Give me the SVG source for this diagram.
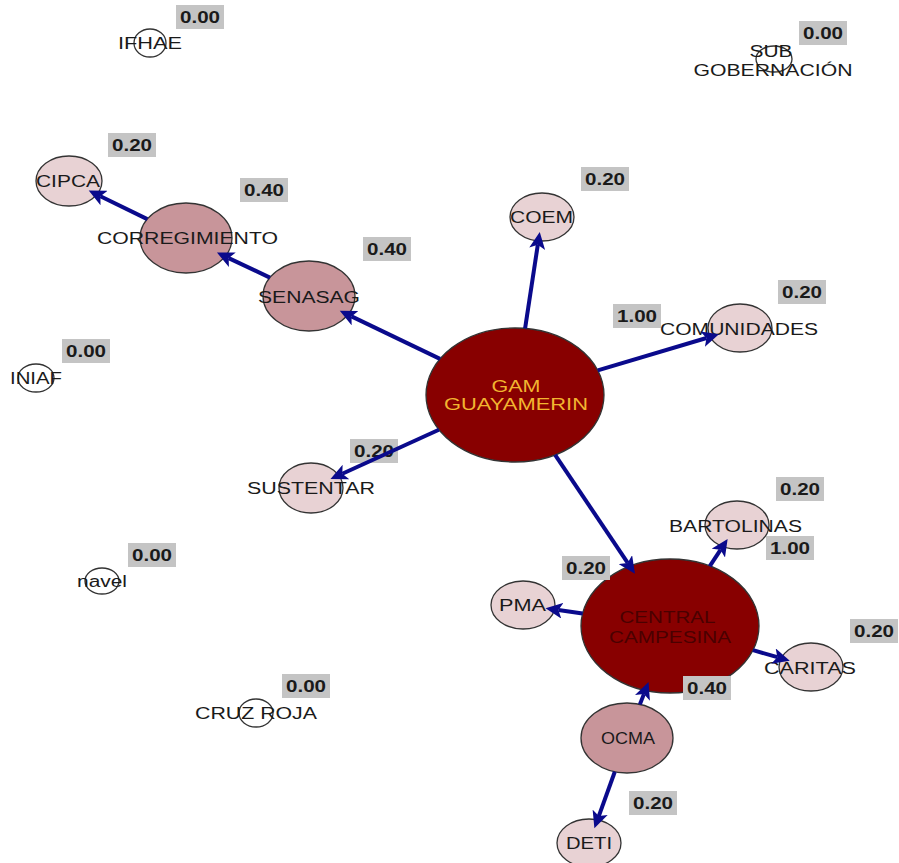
<svg xmlns="http://www.w3.org/2000/svg" width="899" height="863" viewBox="0 0 899 863">
<defs>
<marker id="arr" markerUnits="userSpaceOnUse" markerWidth="18" markerHeight="16" viewBox="0 0 18 16" refX="4" refY="8" orient="auto">
<path d="M17,8 L0,0 L4,8 L0,16 Z" fill="#0A0A8C"/>
</marker>
<style>
.bg{fill:#fff}
.val rect{fill:#C4C4C4}
.val text{font-family:"Liberation Sans",Arial,sans-serif;font-weight:bold;font-size:16px;fill:#1a1a1a;text-anchor:middle}
.edge{stroke:#0A0A8C;stroke-width:4;fill:none;marker-end:url(#arr)}
.n ellipse{stroke:#333;stroke-width:1.3}
.z{fill:#fff}
.p1{fill:#E8D2D4}
.p2{fill:#C8959A}
.p3{fill:#880000}
.n text{font-family:"Liberation Sans",Arial,sans-serif;font-size:16px;fill:#1a1a1a;text-anchor:middle}
</style>
</defs>
<rect class="bg" width="899" height="863"/>
<g id="IFHAE" class="n"><ellipse class="z" cx="150" cy="43" rx="16" ry="14"/><text x="150" y="49" textLength="64" lengthAdjust="spacingAndGlyphs">IFHAE</text></g>
<g id="SUB_GOBERNACION" class="n"><ellipse class="z" cx="774" cy="59" rx="18" ry="13"/><text x="771" y="57" textLength="43" lengthAdjust="spacingAndGlyphs">SUB</text><text x="773" y="76" textLength="159" lengthAdjust="spacingAndGlyphs">GOBERNACIÓN</text></g>
<g id="CIPCA" class="n"><ellipse class="p1" cx="69" cy="181" rx="33" ry="25"/><text x="68" y="187" textLength="64" lengthAdjust="spacingAndGlyphs">CIPCA</text></g>
<g id="CORREGIMIENTO" class="n"><ellipse class="p2" cx="186" cy="238" rx="46" ry="35"/><text x="187.5" y="244" textLength="181" lengthAdjust="spacingAndGlyphs">CORREGIMIENTO</text></g>
<g id="SENASAG" class="n"><ellipse class="p2" cx="309" cy="296" rx="46" ry="35"/><text x="309" y="303" textLength="102" lengthAdjust="spacingAndGlyphs">SENASAG</text></g>
<g id="GAM_GUAYAMERIN" class="n"><ellipse class="p3" cx="515" cy="395" rx="89" ry="67"/><text x="516" y="392" textLength="49" lengthAdjust="spacingAndGlyphs" style="fill:#F2B530">GAM</text><text x="516" y="410" textLength="144" lengthAdjust="spacingAndGlyphs" style="fill:#F2B530">GUAYAMERIN</text></g>
<g id="COEM" class="n"><ellipse class="p1" cx="542" cy="217" rx="32" ry="24"/><text x="541.5" y="223" textLength="63" lengthAdjust="spacingAndGlyphs">COEM</text></g>
<g id="COMUNIDADES" class="n"><ellipse class="p1" cx="740" cy="328" rx="32" ry="24"/><text x="739" y="335" textLength="158" lengthAdjust="spacingAndGlyphs">COMUNIDADES</text></g>
<g id="INIAF" class="n"><ellipse class="z" cx="36" cy="378" rx="18" ry="14"/><text x="36" y="384" textLength="52" lengthAdjust="spacingAndGlyphs">INIAF</text></g>
<g id="SUSTENTAR" class="n"><ellipse class="p1" cx="311" cy="488" rx="32" ry="25"/><text x="311" y="494" textLength="128" lengthAdjust="spacingAndGlyphs">SUSTENTAR</text></g>
<g id="navel" class="n"><ellipse class="z" cx="102" cy="581" rx="17" ry="13"/><text x="102" y="587" textLength="50" lengthAdjust="spacingAndGlyphs">navel</text></g>
<g id="CENTRAL_CAMPESINA" class="n"><ellipse class="p3" cx="670" cy="626" rx="89" ry="67"/><text x="667.5" y="623" textLength="96" lengthAdjust="spacingAndGlyphs" style="fill:#4a0000">CENTRAL</text><text x="670" y="643" textLength="122" lengthAdjust="spacingAndGlyphs" style="fill:#4a0000">CAMPESINA</text></g>
<g id="BARTOLINAS" class="n"><ellipse class="p1" cx="737" cy="525" rx="32" ry="24"/><text x="735.5" y="532" textLength="133" lengthAdjust="spacingAndGlyphs">BARTOLINAS</text></g>
<g id="PMA" class="n"><ellipse class="p1" cx="523" cy="605" rx="32" ry="24"/><text x="522.5" y="611" textLength="47" lengthAdjust="spacingAndGlyphs">PMA</text></g>
<g id="CARITAS" class="n"><ellipse class="p1" cx="811" cy="667" rx="32" ry="24"/><text x="810" y="674" textLength="92" lengthAdjust="spacingAndGlyphs">CARITAS</text></g>
<g id="CRUZ_ROJA" class="n"><ellipse class="z" cx="256" cy="713" rx="17" ry="14"/><text x="256" y="719" textLength="122" lengthAdjust="spacingAndGlyphs">CRUZ ROJA</text></g>
<g id="OCMA" class="n"><ellipse class="p2" cx="627" cy="738" rx="46" ry="35"/><text x="628" y="744" textLength="54" lengthAdjust="spacingAndGlyphs">OCMA</text></g>
<g id="DETI" class="n"><ellipse class="p1" cx="589" cy="843" rx="32" ry="24"/><text x="589" y="849" textLength="46" lengthAdjust="spacingAndGlyphs">DETI</text></g>
<g id="values" class="val">
<rect x="176" y="5" width="48" height="24"/><text x="200" y="23" textLength="40" lengthAdjust="spacingAndGlyphs">0.00</text>
<rect x="799" y="21" width="48" height="24"/><text x="823" y="39" textLength="40" lengthAdjust="spacingAndGlyphs">0.00</text>
<rect x="108" y="133" width="48" height="24"/><text x="132" y="151" textLength="40" lengthAdjust="spacingAndGlyphs">0.20</text>
<rect x="240" y="178" width="48" height="24"/><text x="264" y="196" textLength="40" lengthAdjust="spacingAndGlyphs">0.40</text>
<rect x="363" y="237" width="48" height="24"/><text x="387" y="255" textLength="40" lengthAdjust="spacingAndGlyphs">0.40</text>
<rect x="581" y="167" width="48" height="24"/><text x="605" y="185" textLength="40" lengthAdjust="spacingAndGlyphs">0.20</text>
<rect x="778" y="280" width="48" height="24"/><text x="802" y="298" textLength="40" lengthAdjust="spacingAndGlyphs">0.20</text>
<rect x="613" y="304" width="48" height="24"/><text x="637" y="322" textLength="40" lengthAdjust="spacingAndGlyphs">1.00</text>
<rect x="62" y="339" width="48" height="24"/><text x="86" y="357" textLength="40" lengthAdjust="spacingAndGlyphs">0.00</text>
<rect x="350" y="439" width="48" height="24"/><text x="374" y="457" textLength="40" lengthAdjust="spacingAndGlyphs">0.20</text>
<rect x="128" y="543" width="48" height="24"/><text x="152" y="561" textLength="40" lengthAdjust="spacingAndGlyphs">0.00</text>
<rect x="776" y="477" width="48" height="24"/><text x="800" y="495" textLength="40" lengthAdjust="spacingAndGlyphs">0.20</text>
<rect x="766" y="536" width="48" height="24"/><text x="790" y="554" textLength="40" lengthAdjust="spacingAndGlyphs">1.00</text>
<rect x="562" y="556" width="48" height="24"/><text x="586" y="574" textLength="40" lengthAdjust="spacingAndGlyphs">0.20</text>
<rect x="850" y="619" width="48" height="24"/><text x="874" y="637" textLength="40" lengthAdjust="spacingAndGlyphs">0.20</text>
<rect x="683" y="676" width="48" height="24"/><text x="707" y="694" textLength="40" lengthAdjust="spacingAndGlyphs">0.40</text>
<rect x="282" y="674" width="48" height="24"/><text x="306" y="692" textLength="40" lengthAdjust="spacingAndGlyphs">0.00</text>
<rect x="629" y="791" width="48" height="24"/><text x="653" y="809" textLength="40" lengthAdjust="spacingAndGlyphs">0.20</text>
</g>
<g id="connectors">
<line class="edge" x1="525.1" y1="328.4" x2="537.8" y2="244.8"/>
<line class="edge" x1="597.8" y1="370.4" x2="706.5" y2="338.0"/>
<line class="edge" x1="440.0" y1="358.9" x2="351.5" y2="316.4"/>
<line class="edge" x1="269.9" y1="277.6" x2="228.7" y2="258.1"/>
<line class="edge" x1="147.3" y1="219.1" x2="100.4" y2="196.3"/>
<line class="edge" x1="438.9" y1="429.7" x2="342.3" y2="473.7"/>
<line class="edge" x1="555.1" y1="454.8" x2="627.7" y2="562.9"/>
<line class="edge" x1="709.8" y1="566.1" x2="720.5" y2="549.8"/>
<line class="edge" x1="582.6" y1="613.5" x2="558.4" y2="610.1"/>
<line class="edge" x1="753.0" y1="650.1" x2="777.3" y2="657.2"/>
<line class="edge" x1="639.9" y1="704.4" x2="643.9" y2="694.1"/>
<line class="edge" x1="614.8" y1="771.7" x2="598.8" y2="816.1"/>
</g>
</svg>
